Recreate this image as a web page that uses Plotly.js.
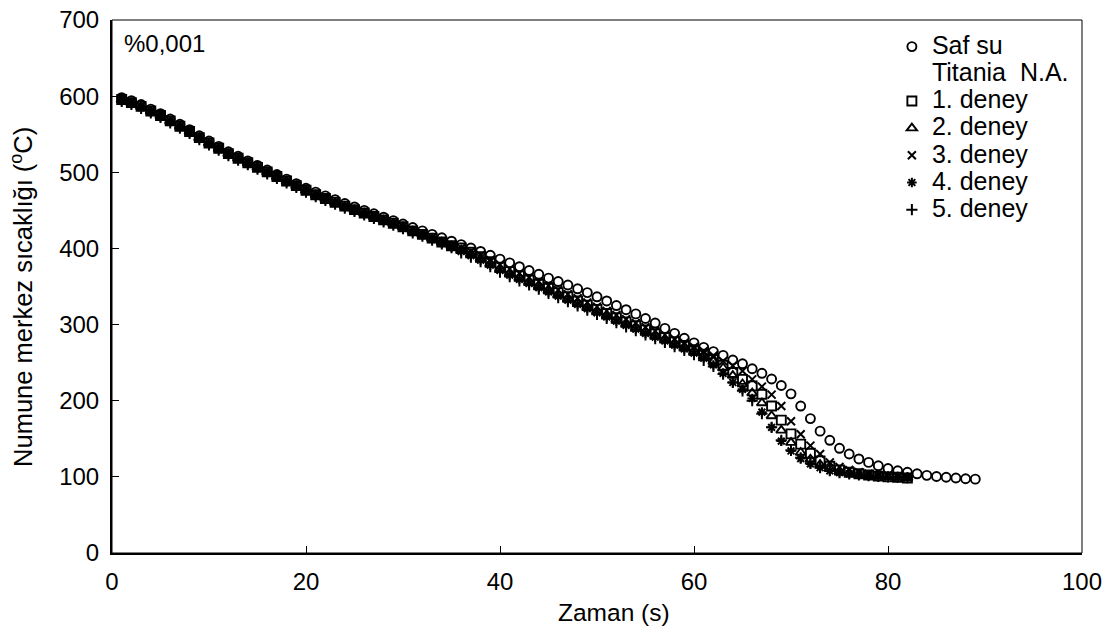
<!DOCTYPE html>
<html>
<head>
<meta charset="utf-8">
<script src="https://cdn.plot.ly/plotly-3.0.1.min.js"></script>
<style>
html,body{margin:0;padding:0;background:#fff;}
#chart{width:1120px;height:635px;}
#chart .legendtext{font-size:25px !important;}
#chart .legend .scrollbox, #chart .legend g{clip-path:none !important;}
</style>
</head>
<body>
<div id="chart"></div>
<script>
// time (s)
const tSaf = [];
for (let i = 1; i <= 89; i++) tSaf.push(i);
const tDeney = [];
for (let i = 1; i <= 82; i++) tDeney.push(i);

const safSu = [598,594,589,583,577,570,563,556,548,541,
534,527,521,515,509,503,497,491,485,479,
474,469,464,459,454.5,450,445.5,441,436.5,432,
427.5,423,418.5,414,409.5,405,400.5,396,391,386,
381,376,371,366,361,356.5,352,347,342,336.5,
331,325,319.5,314,308,302,295,288.5,282,276,
270,264.5,259.5,253.5,248.5,242,236,228.5,220,209,
193,176.5,160,148,137.5,130,123.5,119,114.5,111,
108,106,104,102,100.5,99.5,98.5,97.5,97];

const deney1 = [595.5,591.5,586.5,580.5,574.5,567.5,560.5,553.5,545.5,538.5,
531.5,524.5,518.5,512.5,506.5,500.5,494.5,488.5,482.5,476.5,
470.5,465.5,460.5,455.5,451,446.5,442,437.5,433,428.5,
423,418.5,413.5,408.5,403.5,400.5,395,389,382.5,375.5,
369.5,364,358.5,353,347.5,342,336.5,331,325.5,320,
314.5,309,303.5,298.5,293,288,283,277.5,272.5,267,
261,254.5,246.5,237,228,219.5,208.5,193,174.5,156.5,
143,131,121,114,109,106,104,102.5,101,100,99.5,98.5];

const deney2 = [595,591,586,580,574,567,560,553,545,538,
531,524,518,512,506,500,494,488,482,476,
470,465,460,455,450.5,446,441.5,437,432.5,428,
422.5,418,413,408,403,398,392.5,386.5,380,373,
367,361.5,356,350.5,345,339.5,334,328.5,323,317.5,
312,306.5,301,296,290.5,285.5,280.5,275,270,264.5,
258,251.5,243,233,222,210,197,180,161,145,
132,123,116,111,107,105,103,101.5,100.5,99.5,99,98.5];

const deney3 = [596,592,587,581,575,568,561,554,546,539,
532,525,519,513,507,501,495,489,483,477,
471,466,461,456,451.5,447,442.5,438,433.5,429,
424,419.5,414.5,409.5,404.5,400.5,396,391,385,379,
373,367.5,362,356.5,351,345.5,340,334.5,329,323.5,
318,312.5,307,302,296.5,291.5,286.5,281,276,270.5,
265,259,252,246,239,228,218.5,208,193,173,
156,141,130,119,113,109,106,104,102,101,100,99.5];

const deney4 = [594,590,585,579,573,566,559,552,544,537,
530,523,517,511,505,499,493,487,481,475,
469,464,459,454,449.5,445,440.5,436,431.5,427,
421.5,417,412,407,402,396,390.5,384.5,378,371,
365,359.5,354,348.5,343,337.5,332,326.5,321,315.5,
310,304.5,299,294,288.5,283.5,278.5,273,268,262.5,
256,247,236,224,215,203,185,165,147,134,
124,117,112,108,105.5,104,102.5,101.5,100.5,100,99.5,99];

const deney5 = [593,589,584,578,572,565,558,551,543,536,
529,522,516,510,504,498,492,486,480,474,
468,463,458,453,448.5,444,439.5,435,430.5,426,
420.5,416,411,406,401,394,388.5,382.5,376,369,
363,357.5,352,346.5,341,335.5,330,324.5,319,313.5,
308,302.5,297,292,286.5,281.5,276.5,271,266,260.5,
253,245,235,224,213,200,183,165,148,135,
125,118,112,108,105.5,104,102.5,101.5,100.5,100,99.5,99];

const seriesNames = ['Saf su','Titania\u00a0\u00a0N.A.','1. deney','2. deney','3. deney','4. deney','5. deney'];
const xTicks = [0,20,40,60,80,100];
const yTicks = [0,100,200,300,400,500,600,700];
const xTitle = 'Zaman (s)';
const yTitle = 'Numune merkez sıcaklığı (<sup>o</sup>C)';
const panelLabel = '%0,001';

const FONT = 'Liberation Sans, Arial, sans-serif';
const mk = (sym, size, w) => ({symbol: sym, size: size, color: '#000', line: {color: '#000', width: w}});

const traces = [
  {x: tSaf, y: safSu, name: seriesNames[0], mode: 'markers', type: 'scatter', marker: mk('circle-open', 9, 1.9)},
  {x: [null], y: [null], name: seriesNames[1], mode: 'markers', type: 'scatter', marker: {size: 1, color: 'rgba(0,0,0,0)'}},
  {x: tDeney, y: deney1, name: seriesNames[2], mode: 'markers', type: 'scatter', marker: mk('square-open', 9, 1.9)},
  {x: tDeney, y: deney2, name: seriesNames[3], mode: 'markers', type: 'scatter', marker: mk('triangle-up-open', 9, 1.9)},
  {x: tDeney, y: deney3, name: seriesNames[4], mode: 'markers', type: 'scatter', marker: mk('x-thin-open', 8, 2)},
  {x: tDeney, y: deney4, name: seriesNames[5], mode: 'markers', type: 'scatter', marker: mk('asterisk-open', 8, 2)},
  {x: tDeney, y: deney5, name: seriesNames[6], mode: 'markers', type: 'scatter', marker: mk('cross-thin-open', 8, 2)}
];

const layout = {
  width: 1120, height: 635,
  margin: {l: 112, r: 38, t: 20, b: 82},
  paper_bgcolor: '#fff', plot_bgcolor: '#fff',
  font: {family: FONT, size: 24, color: '#000'},
  showlegend: true,
  legend: {x: 0.804, y: 0.985, xanchor: 'left', yanchor: 'top', bgcolor: 'rgba(0,0,0,0)',
           font: {family: FONT, size: 18.6, color: '#000'}, itemwidth: 30, tracegroupgap: 0},
  xaxis: {range: [0, 100], tickvals: xTicks, ticktext: xTicks.map(String), ticks: 'inside', ticklen: 7,
          tickcolor: '#000', showgrid: false, zeroline: false, showline: true, linecolor: '#000', linewidth: 2,
          ticklabelstandoff: 6, tickfont: {family: FONT, size: 24}},
  yaxis: {range: [0, 700], tickvals: yTicks, ticktext: yTicks.map(String), ticks: 'inside', ticklen: 7,
          tickcolor: '#000', showgrid: false, zeroline: false, showline: true, linecolor: '#000', linewidth: 2,
          ticklabelstandoff: 6, tickfont: {family: FONT, size: 24}},
  shapes: [{type: 'rect', xref: 'paper', yref: 'paper', x0: 0, x1: 1, y0: 0, y1: 1, line: {color: '#000', width: 1}}],
  annotations: [
    {text: panelLabel, xref: 'paper', yref: 'paper', x: 0.01, y: 0.985, xanchor: 'left', yanchor: 'top',
     showarrow: false, font: {family: FONT, size: 24, color: '#000'}},
    {text: xTitle, xref: 'paper', yref: 'paper', x: 0.5175, y: -0.111, xanchor: 'center', yanchor: 'middle',
     showarrow: false, font: {family: FONT, size: 24.5, color: '#000'}},
    {text: yTitle, xref: 'paper', yref: 'paper', x: -0.093, y: 0.48, xanchor: 'center', yanchor: 'middle',
     textangle: -90, showarrow: false, font: {family: FONT, size: 25.5, color: '#000'}}
  ]
};

Plotly.newPlot('chart', traces, layout, {staticPlot: true, displayModeBar: false});
</script>
</body>
</html>
